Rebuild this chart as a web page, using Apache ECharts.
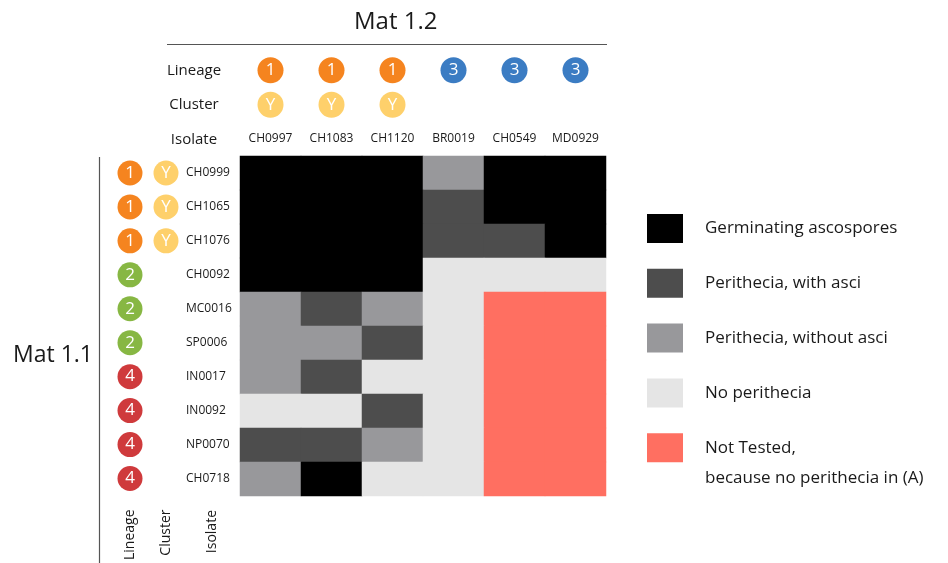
<!DOCTYPE html>
<html>
<head>
<meta charset="utf-8">
<script src="https://cdn.jsdelivr.net/npm/echarts@6/dist/echarts.min.js"></script>
<style>html,body{margin:0;padding:0;background:#fff}#c{width:948px;height:563px}</style>
</head>
<body>
<div id="c"></div>
<script>
// Mat 1.2 isolates (columns)
var colIsolates = ['CH0997', 'CH1083', 'CH1120', 'BR0019', 'CH0549', 'MD0929'];
var colLineage = ['1', '1', '1', '3', '3', '3'];
var colCluster = ['Y', 'Y', 'Y', '', '', ''];
// Mat 1.1 isolates (rows)
var rowIsolates = ['CH0999', 'CH1065', 'CH1076', 'CH0092', 'MC0016', 'SP0006', 'IN0017', 'IN0092', 'NP0070', 'CH0718'];
var rowLineage = ['1', '1', '1', '2', '2', '2', '4', '4', '4', '4'];
var rowCluster = ['Y', 'Y', 'Y', '', '', '', '', '', '', ''];
// outcome categories
var outcomes = ['Germinating ascospores', 'Perithecia, with asci', 'Perithecia, without asci', 'No perithecia', 'Not Tested,\nbecause no perithecia in (A)'];
// outcome code per row (Mat 1.1) x column (Mat 1.2)
var results = [
  [0, 0, 0, 2, 0, 0],
  [0, 0, 0, 1, 0, 0],
  [0, 0, 0, 1, 1, 0],
  [0, 0, 0, 3, 3, 3],
  [2, 1, 2, 3, 4, 4],
  [2, 2, 1, 3, 4, 4],
  [2, 1, 3, 3, 4, 4],
  [3, 3, 1, 3, 4, 4],
  [1, 1, 2, 3, 4, 4],
  [2, 0, 3, 3, 4, 4]
];

var outcomeColors = ['#000000', '#4d4d4d', '#98989b', '#e5e5e5', '#ff6f61'];
var lineageColors = { '1': '#f5841f', '2': '#87b743', '3': '#3b7cc3', '4': '#cf3a3c' };
var clusterColor = '#fed06b';
var FONT = 'Open Sans';
var TXT = '#1a1a1a';

var heatData = [];
results.forEach(function (row, r) {
  row.forEach(function (v, c) { heatData.push([c, r, v]); });
});

function circleItem(x, y, txt, color) {
  return { value: [x, y], label: { formatter: txt }, itemStyle: { color: color, opacity: 1 } };
}
var topLinData = [], topCluData = [];
colIsolates.forEach(function (name, i) {
  topLinData.push(circleItem(i, 'Lineage', colLineage[i], lineageColors[colLineage[i]]));
  if (colCluster[i]) topCluData.push(circleItem(i, 'Cluster', colCluster[i], clusterColor));
});
var leftLinData = [], leftCluData = [];
rowIsolates.forEach(function (name, i) {
  leftLinData.push(circleItem('Lineage', i, rowLineage[i], lineageColors[rowLineage[i]]));
  if (rowCluster[i]) leftCluData.push(circleItem('Cluster', i, rowCluster[i], clusterColor));
});

var circleLabel = { show: true, position: 'inside', color: '#fff', fontFamily: FONT, fontSize: 17 };

var legendGraphics = [];
outcomes.forEach(function (name, i) {
  var y = 214 + i * 54.8;
  legendGraphics.push({ type: 'rect', left: 647, top: y, shape: { width: 36, height: 29 }, style: { fill: outcomeColors[i] } });
  var lines = name.split('\n');
  lines.forEach(function (ln, k) {
    legendGraphics.push({ type: 'text', left: 705, top: y + 6 + k * 30, style: { text: ln, fontFamily: FONT, fontSize: 17, fill: TXT } });
  });
});

var chart = echarts.init(document.getElementById('c'), null, { renderer: 'canvas' });
chart.setOption({
  backgroundColor: '#fff',
  animation: false,
  grid: [
    { left: 240, width: 366, top: 156, height: 340 },
    { left: 240, width: 366, top: 53, height: 103.5 },
    { left: 112, width: 72, top: 156, height: 340 }
  ],
  xAxis: [
    { gridIndex: 0, type: 'category', data: colIsolates, position: 'top',
      axisLine: { show: false }, axisTick: { show: false }, splitLine: { show: false },
      axisLabel: { interval: 0, margin: 11, fontFamily: FONT, fontSize: 12, color: TXT } },
    { gridIndex: 1, type: 'category', data: colIsolates, show: false },
    { gridIndex: 2, type: 'category', data: ['Lineage', 'Cluster'], position: 'bottom',
      axisLine: { show: false }, axisTick: { show: false }, splitLine: { show: false },
      axisLabel: { interval: 0, rotate: 90, margin: 14, fontFamily: FONT, fontSize: 14, color: TXT } }
  ],
  yAxis: [
    { gridIndex: 0, type: 'category', data: rowIsolates, inverse: true,
      axisLine: { show: false }, axisTick: { show: false }, splitLine: { show: false },
      axisLabel: { interval: 0, align: 'left', margin: 54, fontFamily: FONT, fontSize: 12, color: TXT } },
    { gridIndex: 1, type: 'category', data: ['Lineage', 'Cluster', 'Isolate'], inverse: true,
      axisLine: { show: false }, axisTick: { show: false }, splitLine: { show: false },
      axisLabel: { interval: 0, align: 'center', margin: 46, fontFamily: FONT, fontSize: 15, color: TXT } },
    { gridIndex: 2, type: 'category', data: rowIsolates, inverse: true, show: false }
  ],
  visualMap: {
    type: 'piecewise', show: false, seriesIndex: 0, dimension: 2,
    pieces: outcomes.map(function (n, i) { return { value: i, color: outcomeColors[i] }; })
  },
  series: [
    { type: 'heatmap', xAxisIndex: 0, yAxisIndex: 0, data: heatData, itemStyle: { borderWidth: 0 }, emphasis: { disabled: true } },
    { type: 'scatter', xAxisIndex: 1, yAxisIndex: 1, symbolSize: 26, data: topLinData, label: circleLabel, emphasis: { disabled: true } },
    { type: 'scatter', xAxisIndex: 1, yAxisIndex: 1, symbolSize: 26, data: topCluData, label: circleLabel, emphasis: { disabled: true } },
    { type: 'scatter', xAxisIndex: 2, yAxisIndex: 2, symbolSize: 25, data: leftLinData, label: circleLabel, emphasis: { disabled: true } },
    { type: 'scatter', xAxisIndex: 2, yAxisIndex: 2, symbolSize: 25, data: leftCluData, label: circleLabel, emphasis: { disabled: true } }
  ],
  graphic: [
    { type: 'text', left: 354, top: 10, style: { text: 'Mat 1.2', fontFamily: FONT, fontSize: 24, fill: TXT } },
    { type: 'line', shape: { x1: 167, y1: 44.5, x2: 607, y2: 44.5 }, style: { stroke: '#555', lineWidth: 1.2 } },
    { type: 'text', left: 13, top: 344, style: { text: 'Mat 1.1', fontFamily: FONT, fontSize: 23, fill: TXT } },
    { type: 'line', shape: { x1: 99.5, y1: 157, x2: 99.5, y2: 563 }, style: { stroke: '#555', lineWidth: 1.2 } },
    { type: 'text', x: 212, y: 510, rotation: Math.PI / 2, style: { text: 'Isolate', fontFamily: FONT, fontSize: 14, fill: TXT, align: 'right', verticalAlign: 'middle' } }
  ].concat(legendGraphics)
});
</script>
</body>
</html>
